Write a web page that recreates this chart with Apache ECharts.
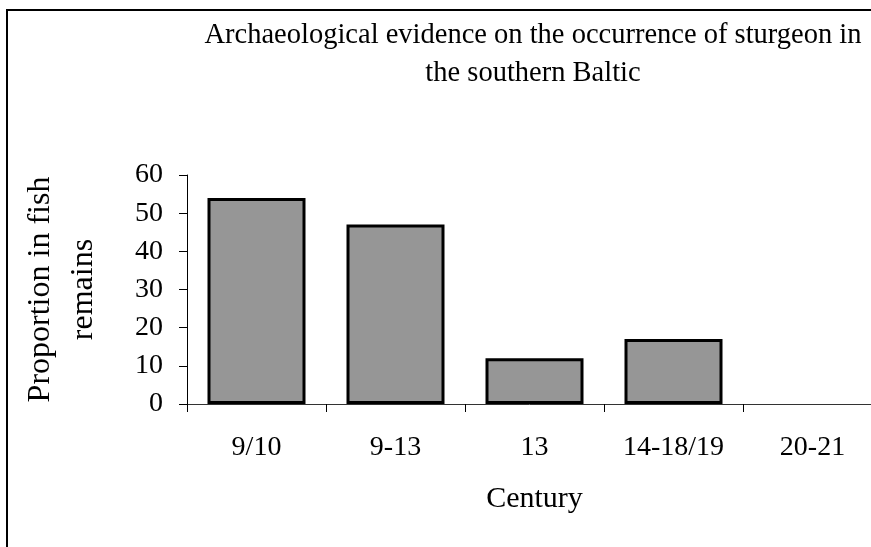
<!DOCTYPE html>
<html><head><meta charset="utf-8">
<script src="https://cdn.jsdelivr.net/npm/echarts@6/dist/echarts.min.js"></script>
<style>html,body{margin:0;padding:0;background:#fff}#c{width:871px;height:547px}</style>
</head><body><div id="c"></div>
<script>
const categories = ['9/10', '9-13', '13', '14-18/19', '20-21'];
const proportion = [54, 47, 12, 17, 0];
const yTicks = [0, 10, 20, 30, 40, 50, 60];
const titleLines = ['Archaeological evidence on the occurrence of sturgeon in', 'the southern Baltic'];

const F = 'Liberation Serif, Times New Roman, serif';
const chart = echarts.init(document.getElementById('c'), null, {renderer: 'canvas'});
chart.setOption({
  animation: false,
  backgroundColor: '#fff',
  graphic: [
    {type: 'rect', shape: {x: 7, y: 10, width: 900, height: 600}, style: {fill: 'none', stroke: '#000', lineWidth: 2}, z: 0},
    {type: 'text', x: 533, y: 36, style: {text: titleLines[0], font: '28.5px ' + F, fill: '#000', textAlign: 'center', textVerticalAlign: 'middle'}},
    {type: 'text', x: 533, y: 74, style: {text: titleLines[1], font: '28.5px ' + F, fill: '#000', textAlign: 'center', textVerticalAlign: 'middle'}}
  ],
  grid: {left: 187, top: 175, width: 695, height: 229, outerBoundsMode: 'none', containLabel: false},
  xAxis: {
    type: 'category', data: categories, boundaryGap: true,
    axisLine: {lineStyle: {color: '#333', width: 1}},
    axisTick: {show: true, length: 8, lineStyle: {color: '#000'}},
    axisLabel: {color: '#000', fontFamily: F, fontSize: 28, margin: 30},
    name: 'Century', nameLocation: 'middle', nameGap: 80,
    nameTextStyle: {color: '#000', fontFamily: F, fontSize: 30}
  },
  yAxis: {
    type: 'value', min: 0, max: 60, interval: 10,
    axisLine: {show: true, lineStyle: {color: '#000', width: 1}},
    axisTick: {show: true, length: 8, lineStyle: {color: '#000'}},
    splitLine: {show: false},
    axisLabel: {color: '#000', fontFamily: F, fontSize: 28, margin: 24,
      formatter: v => yTicks.includes(v) ? String(v) : ''},
    name: 'Proportion in fish\nremains', nameLocation: 'middle', nameRotate: 90, nameGap: 82,
    nameTextStyle: {color: '#000', fontFamily: F, fontSize: 32, lineHeight: 43}
  },
  series: [{
    type: 'bar', barWidth: 98,
    data: proportion.map(v => v === 0 ? {value: v, itemStyle: {borderWidth: 0}} : v),
    itemStyle: {color: '#969696', borderColor: '#000', borderWidth: 3}
  }]
});
</script></body></html>
